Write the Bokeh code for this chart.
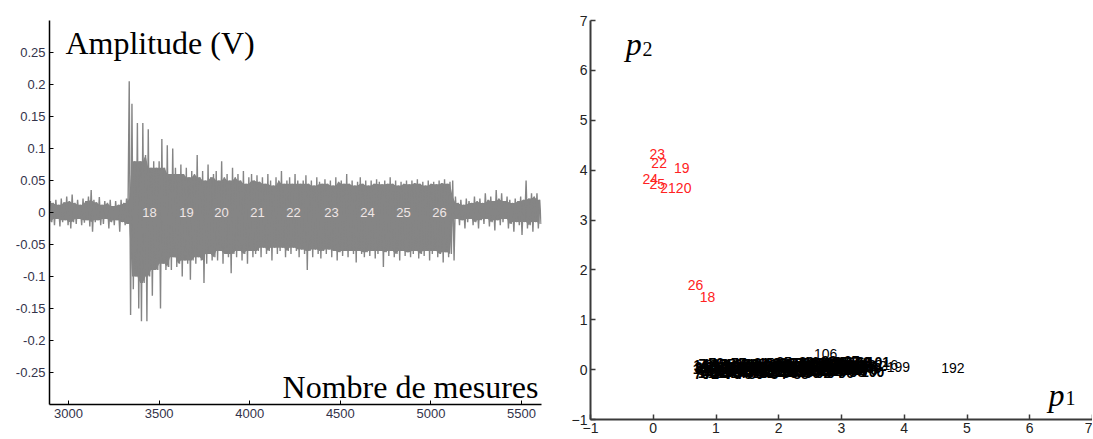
from bokeh.plotting import figure
from bokeh.models import Range1d, FixedTicker, Label, CustomJSTickFormatter
from bokeh.layouts import row
from bokeh.core.properties import value
from bokeh.embed import file_html
from bokeh.resources import INLINE

# ---------------- Left panel data: signal envelope ----------------
sample_x = list(range(2900, 5601, 15))

upper_pre = [0.018, 0.015, 0.02, 0.012, 0.022, 0.016, 0.025, 0.018, 0.028, 0.015,
             0.02, 0.012, 0.022, 0.018, 0.025, 0.035, 0.02, 0.016, 0.024, 0.012,
             0.018, 0.015, 0.02, 0.01, 0.018, 0.012, 0.02, 0.015, 0.022]
lower_pre = [-0.015, -0.02, -0.01, -0.022, -0.015, -0.012, -0.02, -0.025, -0.015, -0.018,
             -0.01, -0.02, -0.016, -0.012, -0.022, -0.03, -0.015, -0.012, -0.02, -0.018,
             -0.01, -0.025, -0.015, -0.02, -0.012, -0.03, -0.015, -0.02, -0.018]

upper_onset = [0.205, 0.17, 0.08, 0.14, 0.08, 0.14, 0.09, 0.13, 0.07, 0.08,
               0.07, 0.08, 0.115, 0.07, 0.105, 0.06, 0.1, 0.07, 0.06, 0.075,
               0.06, 0.07, 0.055, 0.065, 0.06, 0.09, 0.055, 0.065, 0.05, 0.075,
               0.055, 0.06]
lower_onset = [-0.16, -0.12, -0.1, -0.15, -0.17, -0.11, -0.17, -0.1, -0.13, -0.09,
               -0.09, -0.15, -0.08, -0.09, -0.085, -0.09, -0.07, -0.085, -0.08, -0.1,
               -0.075, -0.08, -0.105, -0.075, -0.08, -0.07, -0.075, -0.11, -0.08, -0.065,
               -0.075, -0.07]

upper_main = [0.065, 0.05, 0.08, 0.055, 0.06, 0.05, 0.07, 0.055,
              0.06, 0.05, 0.065, 0.045, 0.055, 0.06, 0.05, 0.058,
              0.048, 0.055, 0.045, 0.06, 0.05, 0.042, 0.055, 0.05,
              0.065, 0.045, 0.05, 0.055, 0.045, 0.06, 0.05, 0.045,
              0.05, 0.058, 0.045, 0.05, 0.042, 0.055, 0.048, 0.045,
              0.052, 0.045, 0.05, 0.042, 0.055, 0.048, 0.05, 0.045,
              0.06, 0.045, 0.05, 0.042, 0.048, 0.055, 0.045, 0.05,
              0.042, 0.05, 0.045, 0.052, 0.048, 0.044, 0.05, 0.045,
              0.055, 0.045, 0.05, 0.042, 0.048, 0.045, 0.05, 0.044,
              0.05, 0.046, 0.052, 0.045, 0.048, 0.042, 0.05, 0.045,
              0.048, 0.044, 0.05, 0.046, 0.052, 0.045, 0.048, 0.05]
lower_main = [-0.075, -0.06, -0.08, -0.065, -0.07, -0.095, -0.065, -0.07,
              -0.06, -0.075, -0.065, -0.08, -0.06, -0.07, -0.065, -0.06,
              -0.07, -0.055, -0.065, -0.06, -0.075, -0.055, -0.065, -0.06,
              -0.055, -0.07, -0.06, -0.065, -0.055, -0.06, -0.07, -0.058,
              -0.065, -0.09, -0.06, -0.07, -0.058, -0.065, -0.072, -0.06,
              -0.065, -0.058, -0.07, -0.06, -0.075, -0.062, -0.068, -0.06,
              -0.07, -0.06, -0.065, -0.078, -0.06, -0.065, -0.07, -0.062,
              -0.068, -0.06, -0.072, -0.065, -0.06, -0.085, -0.062, -0.068,
              -0.06, -0.07, -0.065, -0.075, -0.06, -0.068, -0.062, -0.07,
              -0.065, -0.06, -0.072, -0.065, -0.068, -0.06, -0.075, -0.065,
              -0.06, -0.07, -0.065, -0.078, -0.062, -0.07, -0.065, -0.075]

upper_tail = [0.025, 0.015, 0.02, 0.012, 0.022, 0.018, 0.015, 0.025,
              0.018, 0.022, 0.015, 0.03, 0.02, 0.025, 0.018, 0.035,
              0.022, 0.03, 0.018, 0.025, 0.02, 0.015, 0.022, 0.018,
              0.025, 0.02, 0.05, 0.022, 0.03, 0.025, 0.03, 0.02]
lower_tail = [-0.01, -0.02, -0.012, -0.025, -0.015, -0.01, -0.02, -0.015,
              -0.025, -0.012, -0.018, -0.01, -0.022, -0.015, -0.028, -0.012,
              -0.02, -0.015, -0.01, -0.025, -0.018, -0.03, -0.015, -0.02,
              -0.035, -0.015, -0.025, -0.02, -0.03, -0.015, -0.025, -0.018]

upper = upper_pre + upper_onset + upper_main + upper_tail
lower = lower_pre + lower_onset + lower_main + lower_tail
assert len(upper) == len(sample_x) == len(lower), (len(upper), len(lower), len(sample_x))

seg_label_x = [3447, 3651, 3844, 4043, 4242, 4451, 4650, 4849, 5047]
seg_label_txt = ["18", "19", "20", "21", "22", "23", "24", "25", "26"]

left_xticks = [3000, 3500, 4000, 4500, 5000, 5500]
left_yticks = [-0.25, -0.2, -0.15, -0.1, -0.05, 0, 0.05, 0.1, 0.15, 0.2, 0.25]

# ---------------- Right panel data: labelled points (p1, p2) ----------------
red_id = ["23", "22", "19", "24", "25", "21", "20", "26", "18"]
red_x = [-0.06, -0.03, 0.33, -0.17, -0.06, 0.11, 0.36, 0.55, 0.74]
red_y = [4.33, 4.14, 4.04, 3.83, 3.73, 3.64, 3.64, 1.70, 1.46]

# dense, overlapping cluster of black labels near p2 = 0
blk_id = ["1", "2", "3", "4", "5", "6", "7", "8", "9", "10",
          "11", "12", "13", "14", "15", "16", "17", "27", "28", "29",
          "30", "31", "32", "33", "34", "35", "36", "37", "38", "39",
          "40", "41", "42", "43", "44", "45", "46", "47", "48", "49",
          "50", "51", "52", "53", "54", "55", "56", "57", "58", "59",
          "60", "61", "62", "63", "64", "65", "66", "67",
          "70", "71", "72", "73", "74", "75", "76", "77", "78", "79",
          "80", "81", "82", "83", "84", "85", "86", "87", "88", "89",
          "90", "91", "92", "93", "94", "95", "96", "97", "98", "99",
          "100", "101",
          "110", "111", "112", "113", "114", "115", "116", "117", "118", "119",
          "120", "121", "122", "123", "124", "125", "126", "127", "128", "129",
          "130", "131", "132", "133", "134", "135", "136", "137", "138", "139",
          "140", "141", "142", "143", "144", "145", "146", "147", "148", "149",
          "150", "152", "153", "154", "155", "156", "157", "158", "159", "160",
          "161", "162", "163", "164", "165", "166", "167", "168", "169", "170"]
blk_x = [0.63, 0.66, 0.70, 0.74, 0.78, 0.82, 0.86, 0.90, 0.95, 1.00,
         1.04, 1.08, 1.13, 1.18, 1.22, 1.27, 1.32, 1.36, 1.41, 1.46,
         1.50, 1.55, 1.60, 1.64, 1.69, 1.74, 1.78, 1.83, 1.88, 1.92,
         1.97, 2.02, 2.06, 2.11, 2.16, 2.20, 2.25, 2.30, 2.34, 2.39,
         2.44, 2.48, 2.53, 2.58, 2.62, 2.67, 2.72, 2.76, 2.81, 2.86,
         2.90, 2.95, 3.00, 3.05, 3.12, 3.18, 3.25, 3.30,
         0.65, 0.72, 0.80, 0.88, 0.97, 1.06, 1.15, 1.24, 1.33, 1.42,
         1.51, 1.60, 1.69, 1.78, 1.87, 1.96, 2.05, 2.14, 2.23, 2.32,
         2.41, 2.50, 2.59, 2.68, 2.77, 2.86, 2.95, 3.04, 3.13, 3.22,
         3.31, 3.40,
         0.68, 0.76, 0.84, 0.93, 1.02, 1.11, 1.20, 1.29, 1.38, 1.47,
         1.56, 1.65, 1.74, 1.83, 1.92, 2.01, 2.10, 2.19, 2.28, 2.37,
         2.46, 2.55, 2.64, 2.73, 2.82, 2.91, 3.00, 3.09, 3.18, 3.27,
         0.64, 0.71, 0.79, 0.87, 0.96, 1.05, 1.14, 1.23, 1.32, 1.41,
         1.50, 1.59, 1.68, 1.77, 1.86, 1.95, 2.04, 2.13, 2.22, 2.31,
         2.40, 2.49, 2.58, 2.67, 2.76, 2.85, 2.94, 3.03, 3.12, 3.21]
blk_y = [0.02, 0.06, 0.0, 0.08, 0.03, 0.0, 0.06, 0.02, 0.08, 0.0,
         0.05, 0.02, 0.07, 0.0, 0.04, 0.08, 0.02, 0.05, 0.0, 0.07,
         0.03, 0.06, 0.0, 0.08, 0.04, 0.02, 0.07, 0.0, 0.05, 0.09,
         0.03, 0.06, 0.01, 0.08, 0.04, 0.10, 0.02, 0.07, 0.05, 0.10,
         0.03, 0.08, 0.05, 0.11, 0.02, 0.09, 0.06, 0.12, 0.04, 0.10,
         0.07, 0.12, 0.05, 0.02, 0.08, 0.04, 0.10, 0.06,
         -0.08, 0.12, -0.09, 0.13, -0.08, 0.12, -0.09, 0.14, -0.08, 0.12,
         -0.09, 0.14, -0.07, 0.13, -0.08, 0.15, -0.07, 0.14, -0.08, 0.16,
         -0.07, 0.14, -0.06, 0.17, -0.07, 0.15, -0.06, 0.17, -0.05, 0.16,
         -0.05, 0.15,
         0.04, -0.03, 0.05, -0.04, 0.06, -0.03, 0.05, -0.04, 0.06, -0.02,
         0.05, -0.03, 0.07, -0.02, 0.06, -0.03, 0.08, -0.02, 0.07, -0.01,
         0.09, -0.01, 0.08, 0.0, 0.09, 0.01, 0.10, 0.02, 0.09, 0.03,
         0.10, -0.06, 0.11, -0.06, 0.10, -0.07, 0.12, -0.06, 0.11, -0.05,
         0.12, -0.06, 0.13, -0.05, 0.12, -0.05, 0.14, -0.04, 0.13, -0.04,
         0.15, -0.03, 0.14, -0.03, 0.15, -0.02, 0.16, -0.01, 0.15, 0.0]

# individually readable black labels
out_id = ["215", "151", "212", "216", "106", "199", "192"]
out_x = [2.00, 2.37, 3.35, 3.53, 2.56, 3.72, 4.59]
out_y = [0.14, 0.14, 0.08, 0.10, 0.32, 0.06, 0.04]

right_ticks = [-1, 0, 1, 2, 3, 4, 5, 6, 7]

# zigzag through the envelope so the trace is drawn like a dense sampled signal
zig_x, zig_y = [], []
for sx, hi, lo in zip(sample_x, upper, lower):
    zig_x += [sx, sx + 7.5]
    zig_y += [hi, lo]
# solid core: smallest neighbouring excursion
n = len(sample_x)
core_hi = [min(upper[max(i - 1, 0)], upper[i], upper[min(i + 1, n - 1)]) for i in range(n)]
core_lo = [max(lower[max(i - 1, 0)], lower[i], lower[min(i + 1, n - 1)]) for i in range(n)]

# ---------------- Left figure ----------------
p1 = figure(width=568, height=423, output_backend="svg", toolbar_location=None,
            x_range=Range1d(2895, 5610), y_range=Range1d(-0.3, 0.3),
            min_border_left=49, min_border_right=27, min_border_top=20, min_border_bottom=19)
p1.outline_line_color = None
p1.grid.visible = False

p1.varea(x=sample_x, y1=core_lo, y2=core_hi, fill_color="#858585")
p1.line(x=zig_x, y=zig_y, line_color="#858585", line_width=1.4)

p1.text(x=seg_label_x, y=[0] * len(seg_label_x), text=seg_label_txt,
        text_font=value("Liberation Sans"), text_font_size="13px",
        text_color="#efe6e6", text_align="center", text_baseline="middle")

for ax, ticks in ((p1.xaxis, left_xticks), (p1.yaxis, left_yticks)):
    ax.ticker = FixedTicker(ticks=ticks)
    ax.axis_line_color = "black"
    ax.axis_line_width = 1.5
    ax.major_tick_in = 4
    ax.major_tick_out = 0
    ax.major_tick_line_color = "black"
    ax.minor_tick_line_color = None
    ax.major_label_text_font = "Liberation Sans"
    ax.major_label_text_font_size = "13px"
    ax.major_label_text_color = "#33334a"
p1.yaxis.formatter = CustomJSTickFormatter(code="return String(tick);")
p1.yaxis.major_label_standoff = 4
p1.xaxis.major_label_standoff = 4

p1.add_layout(Label(x=2983, y=0.265, text="Amplitude (V)", text_font="Liberation Serif",
                    text_font_size="32px", text_color="black", text_baseline="alphabetic"))
p1.add_layout(Label(x=4181, y=-0.273, text="Nombre de mesures", text_font="Liberation Serif",
                    text_font_size="32px", text_color="black", text_baseline="alphabetic"))

# ---------------- Right figure ----------------
p2 = figure(width=524, height=438, output_backend="svg", toolbar_location=None,
            x_range=Range1d(-1, 7), y_range=Range1d(-1, 7),
            min_border_left=19, min_border_right=0, min_border_top=20, min_border_bottom=19)
p2.outline_line_color = None
p2.grid.visible = False

p2.text(x=blk_x, y=blk_y, text=blk_id, text_font=value("Liberation Sans"),
        text_font_size="14px", text_font_style="bold", text_color="black",
        text_align="left", text_baseline="middle")
p2.text(x=out_x, y=out_y, text=out_id, text_font=value("Liberation Sans"),
        text_font_size="14px", text_color="black", text_align="left", text_baseline="middle")
p2.text(x=red_x, y=red_y, text=red_id, text_font=value("Liberation Sans"),
        text_font_size="14px", text_color="#ff2222", text_align="left", text_baseline="middle")

for ax in (p2.xaxis, p2.yaxis):
    ax.ticker = FixedTicker(ticks=right_ticks)
    ax.axis_line_color = "#3a3a3a"
    ax.axis_line_width = 2
    ax.major_tick_in = 5
    ax.major_tick_out = 0
    ax.major_tick_line_color = "#3a3a3a"
    ax.major_tick_line_width = 1.5
    ax.minor_tick_line_color = None
    ax.major_label_text_font = "Liberation Sans"
    ax.major_label_text_font_size = "14px"
    ax.major_label_text_color = "#222222"
p2.yaxis.major_label_standoff = 3
p2.xaxis.major_label_standoff = 3

p2.add_layout(Label(x=-0.44, y=6.53, text="p", text_font="Liberation Serif", text_font_style="italic",
                    text_font_size="32px", text_color="black", text_baseline="alphabetic"))
p2.add_layout(Label(x=-0.17, y=6.42, text="2", text_font="Liberation Serif",
                    text_font_size="20px", text_color="black", text_baseline="alphabetic"))
p2.add_layout(Label(x=6.30, y=-0.50, text="p", text_font="Liberation Serif", text_font_style="italic",
                    text_font_size="32px", text_color="black", text_baseline="alphabetic"))
p2.add_layout(Label(x=6.57, y=-0.56, text="1", text_font="Liberation Serif",
                    text_font_size="20px", text_color="black", text_baseline="alphabetic"))

layout = row(p1, p2)
open("out.html", "w").write(file_html(layout, INLINE))
